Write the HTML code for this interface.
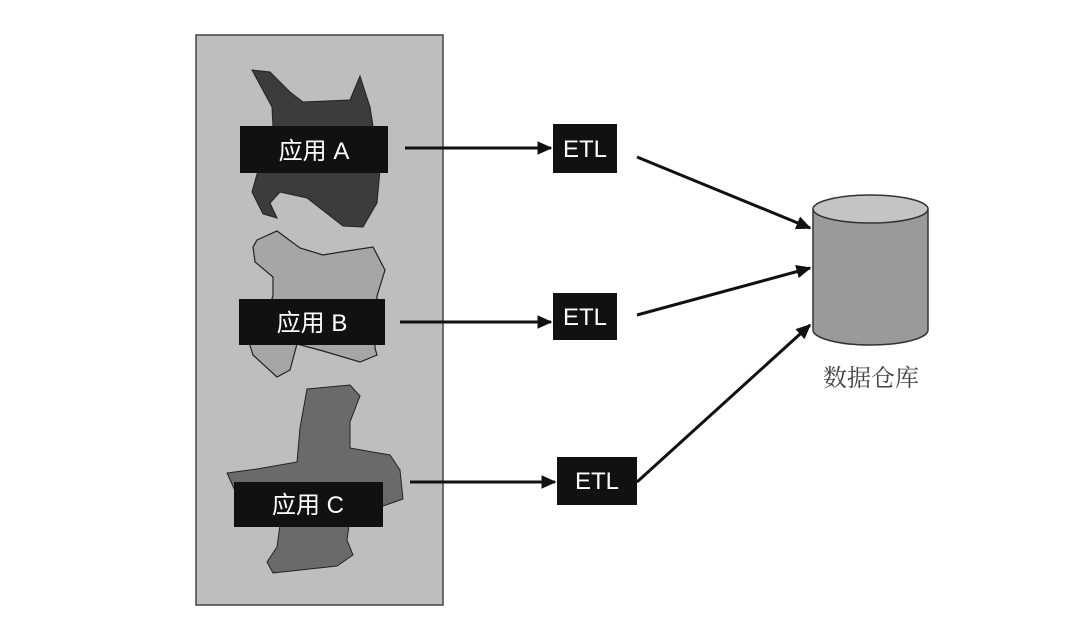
<!DOCTYPE html>
<html><head><meta charset="utf-8"><style>
html,body{margin:0;padding:0;background:#fff;width:1080px;height:618px;overflow:hidden}
svg{display:block}
</style></head><body>
<svg width="1080" height="618" viewBox="0 0 1080 618" xmlns="http://www.w3.org/2000/svg">
<defs>
<marker id="ah" viewBox="0 0 10 10" refX="9" refY="5" markerWidth="6" markerHeight="5" orient="auto" markerUnits="strokeWidth"><path d="M0,0.5 L10,5 L0,9.5 z" fill="#111"/></marker>
</defs>
<rect x="196" y="35" width="247" height="570" fill="#bebebe" stroke="#444" stroke-width="1.5"/>
<path d="M252,70 L270,72 L290,92 L303,102 L350,100 L360,76 L370,107 L380,170 L377,203 L363,227 L343,226 L307,198 L280,192 L270,203 L277,218 L263,214 L252,192 L257,174 L273,128 L272,107 Z" fill="#3c3c3c" stroke="#222" stroke-width="1"/>
<path d="M257,240 L277,231 L300,248 L323,255 L347,251 L373,247 L385,270 L377,296 L375,348 L377,355 L360,362 L323,351 L297,344 L290,370 L277,377 L253,355 L247,336 L263,322 L273,296 L273,277 L255,262 L253,247 Z" fill="#a6a6a6" stroke="#222" stroke-width="1.2"/>
<path d="M307,389 L350,385 L360,396 L350,422 L350,448 L390,455 L400,470 L403,499 L383,506 L350,518 L347,540 L353,555 L337,566 L273,573 L267,562 L277,547 L280,525 L237,495 L227,473 L257,469 L297,462 L300,428 Z" fill="#6a6a6a" stroke="#222" stroke-width="1"/>
<g font-family="Liberation Sans, Noto Sans CJK SC, sans-serif" font-size="24" fill="#fff" text-anchor="middle">
<rect x="240" y="126" width="148" height="47" fill="#111"/><text x="314" y="159">应用 A</text>
<rect x="239" y="299" width="146" height="46" fill="#111"/><text x="312" y="331">应用 B</text>
<rect x="234" y="482" width="149" height="45" fill="#111"/><text x="308" y="513">应用 C</text>
<rect x="553" y="124" width="64" height="49" fill="#111"/><text x="585" y="157">ETL</text>
<rect x="553" y="293" width="64" height="47" fill="#111"/><text x="585" y="325">ETL</text>
<rect x="557" y="457" width="80" height="48" fill="#111"/><text x="597" y="489">ETL</text>
</g>
<g stroke="#111" stroke-width="3" fill="none" marker-end="url(#ah)">
<line x1="405" y1="148" x2="551" y2="148"/>
<line x1="400" y1="322" x2="551" y2="322"/>
<line x1="410" y1="482" x2="555" y2="482"/>
<line x1="637" y1="157" x2="810" y2="228"/>
<line x1="637" y1="315" x2="810" y2="268"/>
<line x1="637" y1="482" x2="810" y2="325"/>
</g>
<path d="M813,209 L813,330 A57.5,15 0 0 0 928,330 L928,209" fill="#9a9a9a" stroke="#333" stroke-width="1.5"/>
<ellipse cx="870.5" cy="209" rx="57.5" ry="14" fill="#c4c4c4" stroke="#333" stroke-width="1.5"/>
<text x="871" y="386" font-family="Liberation Serif, Noto Serif CJK SC, serif" font-size="24" fill="#444" text-anchor="middle">数据仓库</text>
</svg>
</body></html>
